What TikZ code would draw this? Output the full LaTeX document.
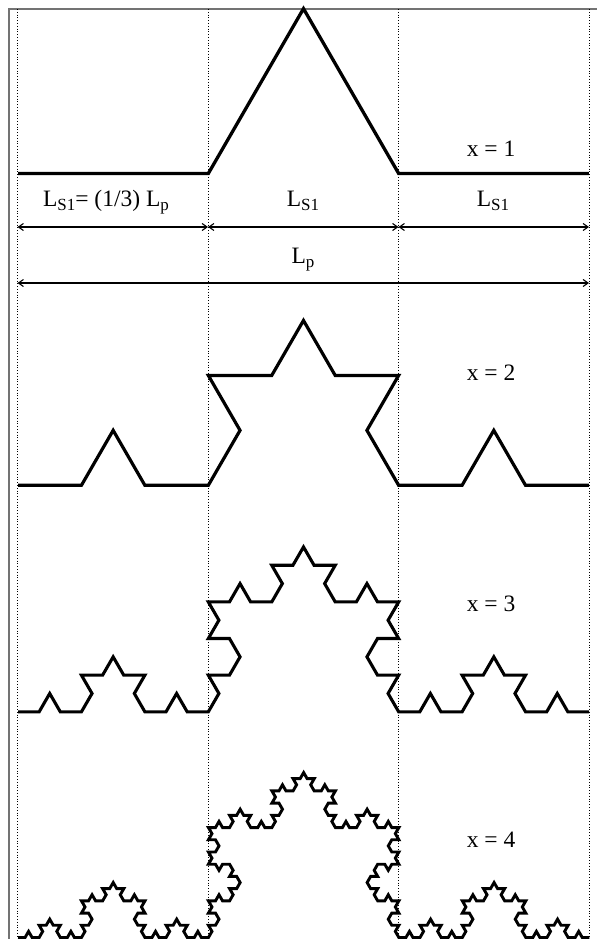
\documentclass[tikz,border=0pt]{standalone}
\usepackage{fontspec}
\setmainfont{Liberation Serif}
\usetikzlibrary{arrows.meta}
\newcommand{\subtxt}[1]{\raisebox{-4pt}{\fontsize{17}{17}\selectfont #1}}
% Turtle on a triangular lattice for the Koch curves
\newcount\kdir \newcount\ka \newcount\kb
\newdimen\kstep \newdimen\kox \newdimen\koy
\def\kleaf{%
  \ifcase\kdir \global\advance\ka 1
  \or \global\advance\kb 1
  \or \global\advance\ka -1 \global\advance\kb 1
  \or \global\advance\ka -1
  \or \global\advance\kb -1
  \or \global\advance\ka 1 \global\advance\kb -1
  \fi
  \pgfpathlineto{\pgfpoint{\kox+\ka\kstep+0.5*\kb\kstep}{\koy+0.8660254*\kb\kstep}}}
\def\kleft{\global\advance\kdir 1 \ifnum\kdir>5 \global\advance\kdir -6 \fi}
\def\kright{\global\advance\kdir -1 \ifnum\kdir<0 \global\advance\kdir 6 \fi}
\def\koch#1{\ifnum#1=0 \kleaf\else\expandafter\kochsub\expandafter{\the\numexpr#1-1\relax}\fi}
\def\kochsub#1{\koch{#1}\kleft\koch{#1}\kright\kright\koch{#1}\kleft\koch{#1}}
% args: order, start x, base y (pixels from top), segment length, line width
\newcommand{\kochcurve}[5]{%
  \begin{scope}
  \global\kdir=0 \global\ka=0 \global\kb=0
  \kstep=#4pt \kox=#2pt \koy=-#3pt
  \pgfsetlinewidth{#5}\pgfsetmiterjoin\pgfsetstrokecolor{black}
  \pgfpathmoveto{\pgfpoint{\kox}{\koy}}%
  \koch{#1}%
  \pgfusepath{stroke}%
  \end{scope}}
\tikzset{
  frameline/.style={draw=black!55,line width=1.1pt},
  guide/.style={draw=black,line width=0.8pt,dotted,line cap=butt},
  dimline/.style={draw=black,line width=1.1pt,{Straight Barb[length=5pt,width=7pt]}-{Straight Barb[length=5pt,width=7pt]}},
  lab/.style={inner sep=0pt,font=\fontsize{23.5}{24}\selectfont}
}
\begin{document}
\begin{tikzpicture}[x=1pt,y=-1pt]
\useasboundingbox (0,0) rectangle (597,939);
\clip (0,0) rectangle (597,939);
\fill[white] (0,0) rectangle (597,939);
\coordinate (tl) at (9,9);
\coordinate (tr) at (597,9);
\coordinate (bl) at (9,939);
\draw[frameline] (bl) -- (tl) -- (tr);
\foreach \n/\gx in {ga/17.5,gb/208,gc/398.5,gd/589}{
  \coordinate (\n t) at (\gx,9);
  \coordinate (\n b) at (\gx,939);
  \draw[guide] (\n t) -- (\n b);
}
\kochcurve{1}{18}{173.5}{190.33}{3.3pt}
\kochcurve{2}{18}{485.3}{63.44}{3.2pt}
\kochcurve{3}{18}{711.8}{21.148}{3.1pt}
\kochcurve{4}{18}{937.5}{7.053}{2.9pt}
\coordinate (d1) at (17.5,227);
\coordinate (d2) at (208,227);
\coordinate (d3) at (398.5,227);
\coordinate (d4) at (589,227);
\coordinate (p1) at (17.5,283);
\coordinate (p2) at (589,283);
\draw[dimline] (d1) -- (d2);
\draw[dimline] (d2) -- (d3);
\draw[dimline] (d3) -- (d4);
\draw[dimline] (p1) -- (p2);
\node[lab,anchor=base] (ls1) at (106,206) {L\subtxt{S1}= (1/3) L\subtxt{p}};
\node[lab,anchor=base] (ls2) at (303,206) {L\subtxt{S1}};
\node[lab,anchor=base] (ls3) at (493,206) {L\subtxt{S1}};
\node[lab,anchor=base] (lp) at (303,263) {L\subtxt{p}};
\node[lab,anchor=base] (x1) at (491,157) {x = 1};
\node[lab,anchor=base] (x2) at (491,380) {x = 2};
\node[lab,anchor=base] (x3) at (491,611) {x = 3};
\node[lab,anchor=base] (x4) at (491,847) {x = 4};
\end{tikzpicture}
\end{document}
